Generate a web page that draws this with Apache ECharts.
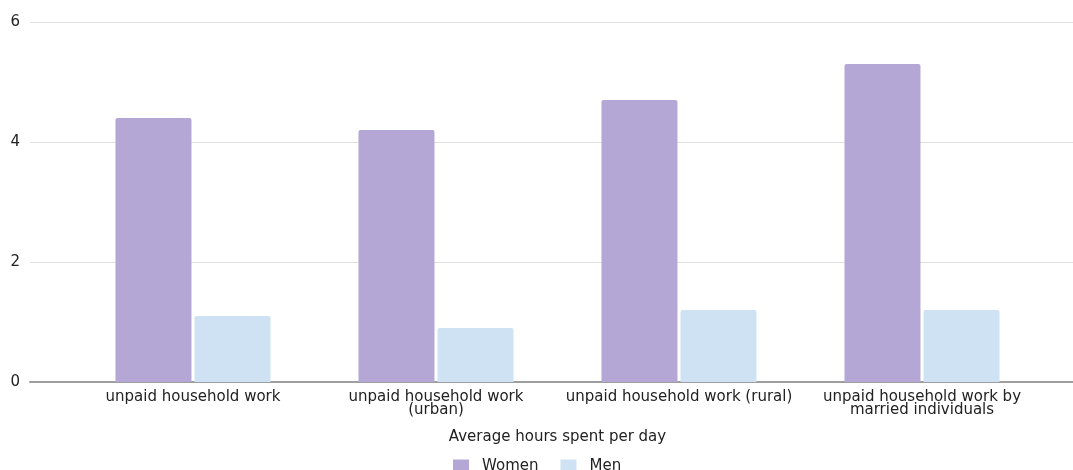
<!DOCTYPE html>
<html>
<head>
<meta charset="utf-8">
<script src="https://cdn.jsdelivr.net/npm/echarts@6/dist/echarts.min.js"></script>
<style>
  html, body { margin: 0; padding: 0; background: #fff; }
  #chart { width: 1073px; height: 470px; }
</style>
</head>
<body>
<div id="chart"></div>
<script>
// 数据
const categories = [
    'unpaid household work',
    'unpaid household work\n(urban)',
    'unpaid household work (rural)',
    'unpaid household work by\nmarried individuals'
];
const women = [4.4, 4.2, 4.7, 5.3];
const men = [1.1, 0.9, 1.2, 1.2];
const yTicks = [0, 2, 4, 6];

const chart = echarts.init(document.getElementById('chart'));
const font = 'DejaVu Sans, sans-serif';

chart.setOption({
    animation: false,
    textStyle: { fontFamily: font },
    grid: [
        // 背景网格：y轴标签和横线
        { left: 30, right: 0, top: 22, bottom: 88 },
        // 柱子
        { left: 71.5, right: 29.5, top: 22, bottom: 88 }
    ],
    legend: {
        data: ['Women', 'Men'],
        left: 453,
        top: 459,
        padding: 0,
        itemWidth: 16,
        itemHeight: 14,
        itemGap: 22,
        icon: 'rect',
        textStyle: { fontSize: 15, color: '#222', fontFamily: font, padding: [0, 0, 0, 8] }
    },
    xAxis: [
        {
            gridIndex: 0, type: 'value', min: 0, max: 1,
            axisLine: { show: true, onZero: false, lineStyle: { color: '#9e9e9e', width: 2 } },
            axisTick: { show: false }, axisLabel: { show: false }, splitLine: { show: false }
        },
        {
            gridIndex: 1, type: 'category', data: categories,
            axisLine: { show: false }, axisTick: { show: false },
            axisLabel: { interval: 0, fontSize: 15, color: '#222', lineHeight: 12.5, margin: 9, fontFamily: font },
            name: 'Average hours spent per day',
            nameLocation: 'middle',
            nameGap: 48,
            nameTextStyle: { fontSize: 15, color: '#222', fontFamily: font }
        }
    ],
    yAxis: [
        {
            gridIndex: 0, type: 'value', min: yTicks[0], max: yTicks[yTicks.length - 1], interval: 2,
            axisLine: { show: false }, axisTick: { show: false },
            axisLabel: { fontSize: 15, color: '#222', margin: 10, fontFamily: font },
            splitLine: { lineStyle: { color: '#e0e0e0', width: 1 } }
        },
        {
            gridIndex: 1, type: 'value', min: 0, max: 6, interval: 2,
            show: false, splitLine: { show: false }
        }
    ],
    series: [
        {
            name: 'Women', type: 'bar', xAxisIndex: 1, yAxisIndex: 1,
            data: women, barWidth: 76, barGap: '4%',
            itemStyle: { color: '#b4a7d6', borderRadius: [2, 2, 0, 0] }
        },
        {
            name: 'Men', type: 'bar', xAxisIndex: 1, yAxisIndex: 1,
            data: men, barWidth: 76, barGap: '4%',
            itemStyle: { color: '#cfe2f3', borderRadius: [2, 2, 0, 0] }
        }
    ]
});

window.addEventListener('resize', () => chart.resize());
</script>
</body>
</html>
